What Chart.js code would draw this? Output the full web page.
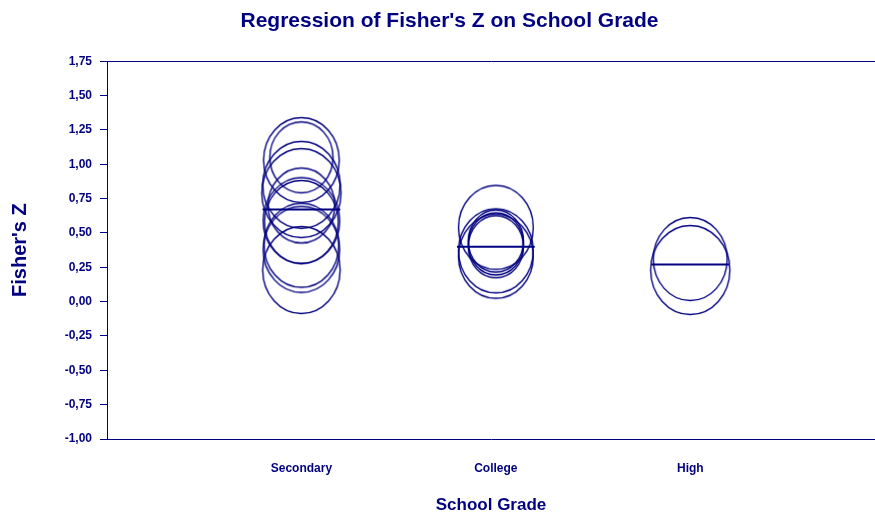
<!DOCTYPE html>
<html>
<head>
<meta charset="utf-8">
<script src="https://cdn.jsdelivr.net/npm/chart.js@4/dist/chart.umd.min.js"></script>
<style>
  html, body { margin: 0; padding: 0; background: #fff; }
</style>
</head>
<body>
<canvas id="fisher_chart" width="875" height="514"></canvas>
<script>
// data
let grades = ['Secondary', 'College', 'High']
let secondaryZ = [1.03, 1.05, 0.85, 0.79, 0.70, 0.59, 0.58, 0.41, 0.38, 0.23]
let secondarySize = [42.5, 35.5, 43.5, 44.5, 37.5, 43, 41.5, 42, 43, 43.5]
let collegeZ = [0.54, 0.37, 0.33, 0.44, 0.42, 0.40]
let collegeSize = [42, 42, 42, 31, 31, 31]
let highZ = [0.31, 0.23]
let highSize = [41.5, 44.5]
let meanZ = [0.67, 0.40, 0.27]

let navy = '#000080'
let font = 'Liberation Sans, Arial, sans-serif'

// the circles in the original are a bit taller than wide
let ellipseCache = {}
function ellipseFor(r) {
    if (ellipseCache[r]) return ellipseCache[r]
    let rx = r * 0.89, ry = r
    let c = document.createElement('canvas')
    c.width = Math.ceil(rx + 2) * 2
    c.height = Math.ceil(ry + 2) * 2
    let g = c.getContext('2d')
    g.strokeStyle = navy
    g.lineWidth = 1.4
    g.beginPath()
    g.ellipse(c.width / 2, c.height / 2, rx, ry, 0, 0, Math.PI * 2)
    g.stroke()
    ellipseCache[r] = c
    return c
}

function bubbles(pos, zs, sizes) {
    return zs.map((z, i) => ({ x: pos, y: z, r: sizes[i] }))
}

let bubbleData = []
    .concat(bubbles(1, secondaryZ, secondarySize))
    .concat(bubbles(2, collegeZ, collegeSize))
    .concat(bubbles(3, highZ, highSize))

let meanLines = meanZ.map((m, i) => ({
    type: 'line',
    data: [{ x: i + 1 - 0.2, y: m }, { x: i + 1 + 0.2, y: m }],
    borderColor: navy,
    borderWidth: 2,
    pointRadius: 0,
    clip: false
}))

let ctx = document.querySelector('#fisher_chart').getContext('2d')

let fisher_chart = new Chart(ctx, {
    type: 'bubble',
    data: {
        datasets: [{
            data: bubbleData,
            backgroundColor: 'rgba(0,0,0,0)',
            borderColor: navy,
            pointStyle: (c) => ellipseFor(c.raw ? c.raw.r : 40),
            clip: false
        }].concat(meanLines)
    },
    options: {
        responsive: false,
        animation: false,
        layout: { autoPadding: false, padding: { left: 24, right: 0, top: 0, bottom: 0 } },
        plugins: {
            legend: { display: false },
            tooltip: { enabled: false },
            title: {
                display: true,
                text: "Regression of Fisher's Z on School Grade",
                color: navy,
                font: { family: font, size: 21, weight: 'bold' },
                padding: { top: 9, bottom: 27 }
            }
        },
        scales: {
            x: {
                type: 'linear',
                min: 0,
                max: 3.95,
                afterBuildTicks: (s) => { s.ticks = [1, 2, 3].map(v => ({ value: v })) },
                afterFit: (s) => { s.height = 75 },
                grid: { display: true, drawOnChartArea: false, drawTicks: false },
                border: { color: navy, width: 1 },
                ticks: {
                    callback: (v) => grades[v - 1] || '',
                    color: navy,
                    font: { family: font, size: 12, weight: 'bold' },
                    padding: 22,
                    maxRotation: 0
                },
                title: {
                    display: true,
                    text: 'School Grade',
                    color: navy,
                    font: { family: font, size: 17, weight: 'bold', lineHeight: 1 },
                    padding: { top: 0, bottom: 0 }
                }
            },
            x2: {
                type: 'linear',
                position: 'top',
                min: 0,
                max: 3.95,
                afterFit: (s) => { s.height = 0 },
                grid: { display: false },
                border: { color: navy, width: 1 },
                ticks: { display: false }
            },
            y: {
                min: -1,
                max: 1.75,
                afterBuildTicks: (s) => {
                    let t = []
                    for (let v = -1; v <= 1.751; v += 0.25) t.push({ value: Math.round(v * 100) / 100 })
                    s.ticks = t
                },
                afterFit: (s) => { s.width = 83 },
                grid: { display: true, drawOnChartArea: false, tickLength: 7, color: navy },
                border: { color: navy, width: 1 },
                ticks: {
                    callback: (v) => v.toFixed(2).replace('.', ','),
                    color: navy,
                    font: { family: font, size: 12, weight: 'bold' },
                    padding: 8
                },
                title: {
                    display: true,
                    text: "Fisher's Z",
                    color: navy,
                    font: { family: font, size: 20, weight: 'bold', lineHeight: 1 },
                    padding: { top: -14, bottom: 0 }
                }
            }
        }
    }
})
</script>
</body>
</html>
